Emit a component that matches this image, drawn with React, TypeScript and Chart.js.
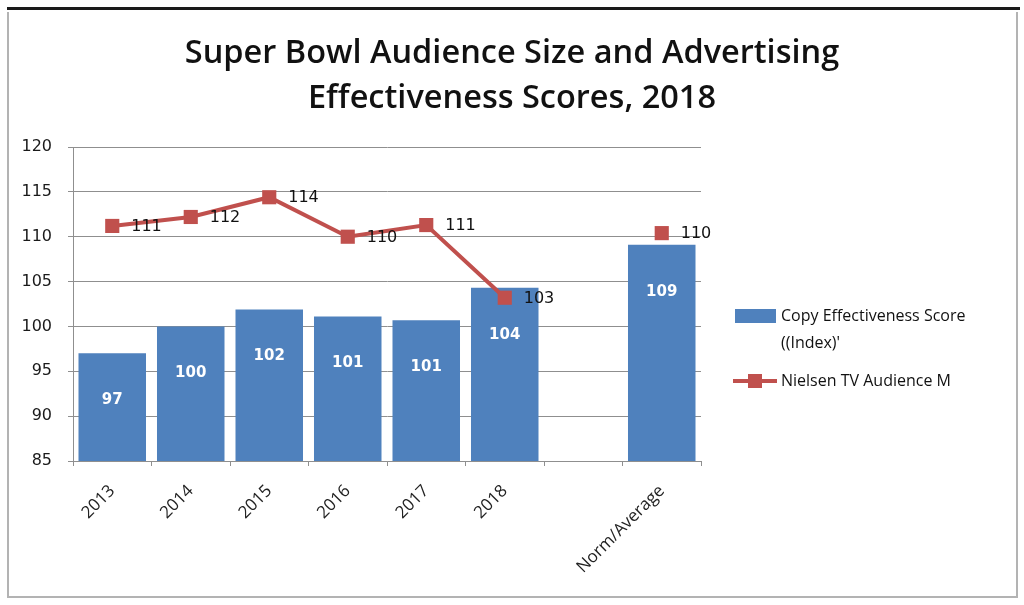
import React, { useEffect, useRef } from "react";
import { Chart, registerables } from "chart.js";

Chart.register(...registerables);

const categories = ["2013", "2014", "2015", "2016", "2017", "2018", "", "Norm/Average"];
const copyScores: (number | null)[] = [97.0, 100.0, 101.9, 101.1, 100.7, 104.3, null, 109.1];
const nielsenAudience: (number | null)[] = [111.2, 112.2, 114.4, 110.0, 111.3, 103.2, null, 110.4];
const yMin = 85;
const yMax = 120;
const yStep = 5;

const titleLines = ["Super Bowl Audience Size and Advertising", "Effectiveness Scores, 2018"];
const barSeriesName = ["Copy Effectiveness Score", "((Index)'"];
const lineSeriesName = "Nielsen TV Audience M";

const BAR_COLOR = "#4F81BD";
const LINE_COLOR = "#C0504D";
const GRID_COLOR = "#8f8f8f";

const valueLabelPlugin = {
  id: "valueLabels",
  afterDatasetsDraw(chart: any) {
    const ctx = chart.ctx;
    ctx.save();
    const barMeta = chart.getDatasetMeta(0);
    ctx.font = "bold 15px 'DejaVu Sans'";
    ctx.fillStyle = "#ffffff";
    ctx.textAlign = "center";
    ctx.textBaseline = "middle";
    barMeta.data.forEach((el: any, i: number) => {
      const v = copyScores[i];
      if (v == null) return;
      ctx.fillText(String(Math.round(v)), el.x, el.y + 47);
    });
    const lineMeta = chart.getDatasetMeta(1);
    ctx.font = "16px 'DejaVu Sans'";
    ctx.fillStyle = "#111111";
    ctx.textAlign = "left";
    lineMeta.data.forEach((el: any, i: number) => {
      const v = nielsenAudience[i];
      if (v == null) return;
      ctx.fillText(String(Math.round(v)), el.x + 19, el.y + 1);
    });
    ctx.restore();
  },
};

export default function App() {
  const canvasRef = useRef<HTMLCanvasElement | null>(null);

  useEffect(() => {
    if (!canvasRef.current) return;
    const chart = new Chart(canvasRef.current, {
      type: "bar",
      data: {
        labels: categories,
        datasets: [
          {
            type: "bar",
            label: barSeriesName.join(" "),
            data: copyScores,
            backgroundColor: BAR_COLOR,
            borderWidth: 0,
            barPercentage: 0.86,
            categoryPercentage: 1,
            order: 1,
          },
          {
            type: "line",
            label: lineSeriesName,
            data: nielsenAudience,
            borderColor: LINE_COLOR,
            backgroundColor: LINE_COLOR,
            borderWidth: 4,
            pointStyle: "rect",
            pointRadius: 10,
            pointHoverRadius: 10,
            pointBorderWidth: 0,
            spanGaps: false,
            tension: 0,
            order: 0,
          },
        ],
      } as any,
      options: {
        responsive: false,
        animation: false,
        events: [],
        layout: { padding: { left: 0, right: 323, top: 147, bottom: 0 } },
        plugins: {
          legend: { display: false },
          title: { display: false },
          tooltip: { enabled: false },
        },
        scales: {
          x: {
            offset: true,
            grid: {
              offset: true,
              drawOnChartArea: false,
              drawTicks: true,
              tickLength: 5,
              color: GRID_COLOR,
            },
            border: { display: true, color: GRID_COLOR, width: 1 },
            ticks: {
              minRotation: 45,
              maxRotation: 45,
              autoSkip: false,
              padding: 15,
              color: "#222222",
              font: { family: "'Open Sans'", size: 17 },
            },
            afterFit(scale: any) {
              scale.height = 144;
            },
          },
          y: {
            min: yMin,
            max: yMax,
            ticks: {
              stepSize: yStep,
              padding: 16,
              color: "#1a1a1a",
              font: { family: "'DejaVu Sans'", size: 16 },
            },
            grid: { color: GRID_COLOR, lineWidth: 1, tickLength: 5 },
            border: { display: true, color: GRID_COLOR, width: 1 },
            afterFit(scale: any) {
              scale.width = 73;
            },
          },
        },
      } as any,
      plugins: [valueLabelPlugin],
    });
    return () => chart.destroy();
  }, []);

  return (
    <div style={{ position: "absolute", left: 0, top: 0, width: 1024, height: 605, background: "#ffffff", overflow: "hidden" }}>
      <div style={{ position: "absolute", left: 7, top: 7, width: 1013, height: 3, background: "#1a1a1a" }} />
      <div
        style={{
          position: "absolute",
          left: 7,
          top: 12,
          width: 1007,
          height: 584,
          borderLeft: "2px solid #b3b3b3",
          borderRight: "2px solid #b3b3b3",
          borderBottom: "2px solid #b3b3b3",
        }}
      />
      <canvas ref={canvasRef} width={1024} height={605} style={{ position: "absolute", left: 0, top: 0 }} />
      <div
        style={{
          position: "absolute",
          left: 0,
          top: 28,
          width: 1024,
          textAlign: "center",
          fontFamily: "'Open Sans'",
          fontWeight: 600,
          fontSize: 32.5,
          lineHeight: "45px",
          color: "#111111",
        }}
      >
        {titleLines.map((t) => (
          <div key={t}>{t}</div>
        ))}
      </div>
      <div style={{ position: "absolute", left: 735, top: 309, width: 41, height: 14, background: BAR_COLOR }} />
      <div
        style={{
          position: "absolute",
          left: 781,
          top: 302,
          fontFamily: "'Open Sans'",
          fontSize: 16,
          lineHeight: "27px",
          color: "#111111",
          whiteSpace: "nowrap",
        }}
      >
        {barSeriesName.map((t) => (
          <div key={t}>{t}</div>
        ))}
      </div>
      <div style={{ position: "absolute", left: 733, top: 379, width: 44, height: 4, background: LINE_COLOR }} />
      <div style={{ position: "absolute", left: 748, top: 374, width: 14, height: 14, background: LINE_COLOR }} />
      <div
        style={{
          position: "absolute",
          left: 781,
          top: 367,
          fontFamily: "'Open Sans'",
          fontSize: 16,
          lineHeight: "27px",
          color: "#111111",
          whiteSpace: "nowrap",
        }}
      >
        {lineSeriesName}
      </div>
    </div>
  );
}
